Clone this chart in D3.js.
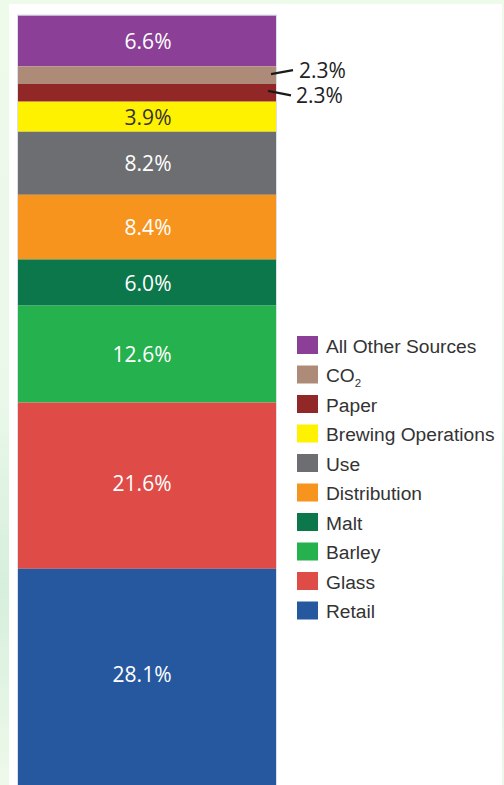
<!DOCTYPE html>
<html>
<head>
<meta charset="utf-8">
<script src="https://cdn.jsdelivr.net/npm/d3@7"></script>
<style>
  html, body { margin: 0; padding: 0; }
  body { width: 504px; height: 785px; overflow: hidden;
         background: linear-gradient(180deg, #eefaea 0%, #eaf8ea 50%, #d6efdc 75%, #eef9ea 100%); }
  svg { display: block; }
</style>
</head>
<body>
<svg id="chart" width="504" height="785"></svg>
<script>
// ---- data (top of stack to bottom) ----
const categories = ["All Other Sources", "CO2", "Paper", "Brewing Operations", "Use",
                    "Distribution", "Malt", "Barley", "Glass", "Retail"];
const values = [6.6, 2.3, 2.3, 3.9, 8.2, 8.4, 6.0, 12.6, 21.6, 28.1];
const colors = ["#8c3f97", "#ae8b78", "#922727", "#fff200", "#6d6e71",
                "#f7941d", "#0b774a", "#24b14e", "#df4b47", "#26589f"];
const labelColors = ["#ffffff", "#ffffff", "#ffffff", "#333333", "#ffffff",
                     "#ffffff", "#ffffff", "#ffffff", "#ffffff", "#ffffff"];
const outsideLabels = ["CO2", "Paper"];

const svg = d3.select("#chart");

// white panel
svg.append("rect").attr("x", 9).attr("y", 4).attr("width", 493).attr("height", 800)
  .attr("fill", "#ffffff");

// scales
const y = d3.scaleLinear().domain([0, 100]).range([15.5, 785]);
const x = d3.scaleBand().domain(["total"]).range([18, 276]).padding(0);

// cumulative stacking from the top
let acc = 0;
const segs = categories.map((c, i) => {
  const s = { cat: c, value: values[i], y0: acc, y1: acc + values[i], color: colors[i], lc: labelColors[i] };
  acc += values[i];
  return s;
});

const g = svg.append("g");
g.selectAll("rect.seg").data(segs).join("rect")
  .attr("class", "seg")
  .attr("x", x("total"))
  .attr("width", x.bandwidth())
  .attr("y", d => y(d.y0))
  .attr("height", d => y(d.y1) - y(d.y0))
  .attr("fill", d => d.color);

// faint outline on bar
g.append("rect")
  .attr("x", x("total") - 0.5).attr("y", y(0) - 0.5)
  .attr("width", x.bandwidth() + 1).attr("height", y(100) - y(0) + 1)
  .attr("fill", "none").attr("stroke", "#c9d2e2").attr("stroke-width", 1).attr("opacity", 0.7);

const fmt = v => v.toFixed(1) + "%";
const labelFont = "'Open Sans', sans-serif";

// inside labels
g.selectAll("text.in").data(segs.filter(d => !outsideLabels.includes(d.cat))).join("text")
  .attr("class", "in")
  .attr("x", 171.5)
  .attr("y", d => (y(d.y0) + y(d.y1)) / 2 - (d.value > 20 ? 3 : 0))
  .attr("text-anchor", "end")
  .attr("dominant-baseline", "central")
  .attr("font-family", labelFont)
  .attr("font-size", 21)
  .attr("fill", d => d.lc)
  .text(d => fmt(d.value));

// outside labels with leader lines
const right = x("total") + x.bandwidth();
const leaderOffsets = [
  { sx: -5, sy: -1, ex: 17, ey: -5, tx: 6 },
  { sx: -8, sy: -2, ex: 15, ey: 2.5, tx: 5 }
];
segs.filter(d => outsideLabels.includes(d.cat)).forEach((d, k) => {
  const mid = (y(d.y0) + y(d.y1)) / 2;
  const o = leaderOffsets[k];
  g.append("line")
    .attr("x1", right + o.sx).attr("y1", mid + o.sy)
    .attr("x2", right + o.ex).attr("y2", mid + o.ey)
    .attr("stroke", "#1a1a1a").attr("stroke-width", 2.2);
  g.append("text")
    .attr("x", right + o.ex + o.tx)
    .attr("y", mid + o.ey)
    .attr("dominant-baseline", "central")
    .attr("font-family", labelFont)
    .attr("font-size", 21)
    .attr("fill", "#222222")
    .text(fmt(d.value));
});

// legend
const legend = svg.append("g").attr("transform", "translate(297,336)");
const rowH = 29.5;
const items = legend.selectAll("g").data(segs).join("g")
  .attr("transform", (d, i) => `translate(0,${i * rowH})`);
items.append("rect")
  .attr("width", 21).attr("height", 18)
  .attr("fill", d => d.color);
const lt = items.append("text")
  .attr("x", 29)
  .attr("y", 16.5)
  .attr("font-family", "'Liberation Sans', Arial, sans-serif")
  .attr("font-size", 19.2)
  .attr("fill", "#333333");
lt.each(function(d) {
  const t = d3.select(this);
  if (d.cat === "CO2") {
    t.append("tspan").text("CO");
    t.append("tspan").attr("font-size", 11.5).attr("dy", 5).text("2");
  } else {
    t.text(d.cat);
  }
});
</script>
</body>
</html>
